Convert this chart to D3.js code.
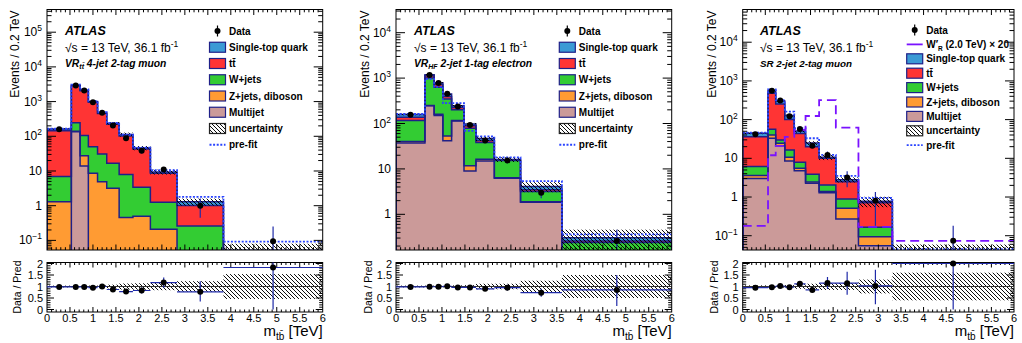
<!DOCTYPE html>
<html><head><meta charset="utf-8">
<script src="https://cdn.jsdelivr.net/npm/d3@7"></script>
<style>body{margin:0;background:#fff} svg{display:block}</style>
</head><body><svg id="c" width="1022" height="343"></svg>
<script>
// ---------------- data ----------------
const xTickVals = [0,0.5,1,1.5,2,2.5,3,3.5,4,4.5,5,5.5,6];
const xTickLabels = ["0","0.5","1","1.5","2","2.5","3","3.5","4","4.5","5","5.5","6"];
const ratioTickVals = [0,0.5,1,1.5,2];
const ratioTickLabels = ["0","0.5","1","1.5","2"];
const legendLabels = ["Data","Single-top quark","tt\u0304","W+jets","Z+jets, diboson","Multijet","uncertainty","pre-fit"];
const legendLabels3 = ["Data","W\u2032","Single-top quark","tt\u0304","W+jets","Z+jets, diboson","Multijet","uncertainty","pre-fit"];

// Panel 1: VR_tt 4-jet 2-tag muon
const yExp1 = [-1,0,1,2,3,4,5];
const edges1 = [0, 0.53, 0.72, 0.9, 1.1, 1.3, 1.57, 1.87, 2.25, 2.83, 3.84, 6.0];
const data1 = [160, 2900, 2100, 950, 480, 205, 88, 38, 11, 1.0, 0.095];
const dataLo1 = [147, 2846, 2054, 919, 458, 191, 79, 32, 8.9, 0.45, 0.0];
const dataHi1 = [173, 2954, 2146, 981, 502, 219, 97, 44, 13.1, 1.6, 0.25];
const multijet1 = [0, 135, 14, 0, 0, 0, 0, 0, 0, 0, 0];
const zjets1 = [1.3, 5, 13.5, 8.6, 4.9, 3.2, 0.46, 0.5, 0.21, 0.02, 0.002];
const wjets1 = [5.6, 107, 77.5, 41.4, 26, 13.4, 7.5, 2.9, 1.04, 0.24, 0.02];
const ttbar1 = [138, 2600, 1960, 900, 425, 207, 94, 39.6, 7.35, 0.76, 0.02];
const singletop1 = [18, 113, 75, 50, 24, 12.4, 11, 3, 0.8, 0.28, 0.01];
const unc1 = [0.04, 0.03, 0.03, 0.04, 0.05, 0.08, 0.13, 0.14, 0.16, 0.23, 0.54];
const prefit1 = [165, 3100, 2250, 1050, 500, 245, 112, 47, 10.5, 1.8, 0.092];

// Panel 2: VR_HF 2-jet 1-tag electron
const yExp2 = [0,1,2,3,4];
const edges2 = [0, 0.63, 0.83, 1.02, 1.21, 1.48, 1.74, 2.14, 2.71, 3.61, 6.0];
const data2 = [155, 1170, 780, 450, 237, 93, 42, 15.3, 3.0, 0.26];
const dataLo2 = [147, 1140, 755, 430, 225, 86, 38, 13.3, 2.25, 0.046];
const dataHi2 = [163, 1200, 805, 470, 249, 100, 46, 17.3, 3.7, 0.46];
const multijet2 = [37, 245, 150, 41.5, 114, 9, 15, 6.2, 1.84, 0];
const zjets2 = [3, 5, 10, 11.5, 2, 2.8, 1.4, 0.2, 0.05, 0];
const wjets2 = [76, 750, 470, 292, 84, 67, 21.6, 8.9, 1.3, 0.24];
const ttbar2 = [22, 120, 95, 50, 25, 10, 4, 0.3, 0.3, 0.02];
const singletop2 = [20, 62, 63, 51, 22, 8.2, 4.7, 0.5, 0.6, 0.046];
const unc2 = [0.04, 0.04, 0.04, 0.04, 0.05, 0.06, 0.12, 0.12, 0.25, 0.5];
const prefit2 = [162, 950, 640, 280, 280, 69, 52, 18, 5.4, 0.36];

// Panel 3: SR 2-jet 2-tag muon
const yExp3 = [-1,0,1,2,3,4];
const edges3 = [0, 0.56, 0.73, 0.93, 1.14, 1.39, 1.69, 2.06, 2.56, 3.31, 6.0];
const data3 = [42, 560, 310, 123, 57, 21, 12.2, 3.2, 0.8, 0.074];
const dataLo3 = [39, 545, 298, 116, 52, 18.5, 9.5, 1.8, 0.18, 0];
const dataHi3 = [45, 575, 322, 130, 62, 23.5, 15, 4.6, 1.35, 0.18];
const multijet3 = [3.0, 33, 21, 8.5, 4.8, 2.26, 1.29, 0.27, 0.055, 0];
const zjets3 = [0.6, 7, 3.5, 2.1, 0.7, 0.2, 0.1, 0.24, 0.039, 0.002];
const wjets3 = [2.5, 16, 5.2, 5.8, 2.4, 1.44, 0.65, 0.38, 0.071, 0.005];
const ttbar3 = [30, 424, 222, 85, 36, 16, 8.0, 1.6, 0.55, 0.02];
const singletop3 = [8.1, 97, 52, 25.6, 7.1, 4.8, 0.56, 0.31, 0.065, 0.01];
const unc3 = [0.05, 0.05, 0.05, 0.06, 0.1, 0.12, 0.15, 0.15, 0.3, 0.6];
const prefit3 = [46, 600, 320, 160, 60, 33, 12.2, 3.5, 0.95, 0.045];
const signal3 = [0.18, 12, 21, 36, 54, 124, 320, 62, 0.17, 0.074];

// ---------------- style / layout ----------------
const FONT = "'Liberation Sans', Arial, Helvetica, sans-serif";
const COLORS = {st:"#3b9ad5", tt:"#ff3434", wj:"#33cc33", zj:"#ff9b33", mj:"#cb9a99"};
const OUTLINE = "#1f2088";
const ERRC = "#1f2aa8";
const PREFITC = "#2a44ff";
const SIGC = "#7a12ff";
const MT = 9.5, MB = 250, RT = 262.5, RB = 312;

const panels = [
  {E:edges1, data:data1, lo:dataLo1, hi:dataHi1, mj:multijet1, zj:zjets1, wj:wjets1, tt:ttbar1, st:singletop1, unc:unc1, prefit:prefit1, yExp:yExp1,
   L:{x0:47, x1:322.7, logLo:-1.277, logHi:5.654, ax:65, yTitleX:18.5, rTitleX:20.5, legX:209.5, legY0:31, legDY:16.25, region:["VR","tt\u0304","4-jet 2-tag muon"]}},
  {E:edges2, data:data2, lo:dataLo2, hi:dataHi2, mj:multijet2, zj:zjets2, wj:wjets2, tt:ttbar2, st:singletop2, unc:unc2, prefit:prefit2, yExp:yExp2,
   L:{x0:396, x1:671.7, logLo:-0.786, logHi:4.511, ax:414, yTitleX:369, rTitleX:371.5, legX:559.3, legY0:31, legDY:16.25, region:["VR","HF","2-jet 1-tag electron"]}},
  {E:edges3, data:data3, lo:dataLo3, hi:dataHi3, mj:multijet3, zj:zjets3, wj:wjets3, tt:ttbar3, st:singletop3, unc:unc3, prefit:prefit3, yExp:yExp3, signal:signal3,
   L:{x0:742.7, x1:1014, logLo:-1.369, logHi:4.845, ax:760, yTitleX:716, rTitleX:717.5, legX:906.7, legY0:30, legDY:14.4, region:["SR 2-jet 2-tag muon",null,null]}}
];

const svg = d3.select("#c");
const defs = svg.append("defs");
const pat = defs.append("pattern").attr("id","hatch").attr("patternUnits","userSpaceOnUse")
  .attr("width",4).attr("height",4);
pat.append("path").attr("d","M-1,-1 L5,5 M-1,3 L1,5 M3,-1 L5,1")
  .attr("stroke","#000").attr("stroke-width",0.95);

function drawPanel(P, idx) {
  const L = P.L, E = P.E, n = P.data.length;
  const g = svg.append("g");
  const x = d3.scaleLinear().domain([0,6]).range([L.x0, L.x1]);
  const y = d3.scaleLog().domain([10**L.logLo, 10**L.logHi]).range([MB, MT]);
  const yr = d3.scaleLinear().domain([0,2]).range([309.5, 263.5]);
  const BOT = MB + 6;
  const Y = v => v > 0 ? Math.min(y(v), BOT) : BOT;

  defs.append("clipPath").attr("id","cm"+idx).append("rect")
    .attr("x",L.x0).attr("y",MT).attr("width",L.x1-L.x0).attr("height",MB-MT);
  defs.append("clipPath").attr("id","cr"+idx).append("rect")
    .attr("x",L.x0).attr("y",RT).attr("width",L.x1-L.x0).attr("height",RB-RT);

  // cumulative stack
  const order = ["mj","zj","wj","tt","st"];
  const cums = {}; let cum = new Array(n).fill(0);
  order.forEach(k => { cum = cum.map((c,i) => c + P[k][i]); cums[k] = cum.slice(); });
  const total = cums.st;

  const stepD = (vals, closed) => {
    let d = `M${x(E[0])},${BOT}`;
    for (let i = 0; i < n; i++) d += `V${Y(vals[i])}H${x(E[i+1])}`;
    d += `V${BOT}`;
    return closed ? d + "Z" : d;
  };
  const lineD = vals => {
    let d = `M${x(E[0])},${Y(vals[0])}`;
    for (let i = 0; i < n; i++) { if (i > 0) d += `V${Y(vals[i])}`; d += `H${x(E[i+1])}`; }
    return d;
  };

  const mg = g.append("g").attr("clip-path",`url(#cm${idx})`);
  ["st","tt","wj","zj","mj"].forEach(k => {
    mg.append("path").attr("d", stepD(cums[k], true)).attr("fill", COLORS[k]);
  });
  ["st","tt","wj","zj","mj"].forEach(k => {
    mg.append("path").attr("d", stepD(cums[k], false)).attr("fill","none")
      .attr("stroke", OUTLINE).attr("stroke-width", 1.5);
  });
  // uncertainty band
  for (let i = 0; i < n; i++) {
    const top = Y(total[i]*(1+P.unc[i])), bot = Y(total[i]*(1-P.unc[i]));
    mg.append("rect").attr("x", x(E[i])).attr("width", x(E[i+1])-x(E[i]))
      .attr("y", top).attr("height", Math.max(0.5, bot-top)).attr("fill","url(#hatch)");
  }
  // prefit
  mg.append("path").attr("d", lineD(P.prefit)).attr("fill","none")
    .attr("stroke", PREFITC).attr("stroke-width", 1.8).attr("stroke-dasharray","2,1.6");
  // signal
  if (P.signal) {
    mg.append("path").attr("d", lineD(P.signal)).attr("fill","none")
      .attr("stroke", SIGC).attr("stroke-width", 1.8).attr("stroke-dasharray","9,5");
  }
  // data
  for (let i = 0; i < n; i++) {
    const cx = x((E[i]+E[i+1])/2);
    mg.append("line").attr("x1",cx).attr("x2",cx).attr("y1",Y(P.lo[i])).attr("y2",Y(P.hi[i]))
      .attr("stroke", ERRC).attr("stroke-width",1.2);
    mg.append("circle").attr("cx",cx).attr("cy",Y(P.data[i])).attr("r",3).attr("fill","#000");
  }

  // frame
  g.append("rect").attr("x",L.x0).attr("y",MT).attr("width",L.x1-L.x0).attr("height",MB-MT)
    .attr("fill","none").attr("stroke","#000").attr("stroke-width",1);
  g.append("rect").attr("x",L.x0).attr("y",RT).attr("width",L.x1-L.x0).attr("height",RB-RT)
    .attr("fill","none").attr("stroke","#000").attr("stroke-width",1);

  const tick = (x1,y1,x2,y2) => g.append("line").attr("x1",x1).attr("y1",y1).attr("x2",x2).attr("y2",y2)
    .attr("stroke","#000").attr("stroke-width",1);

  // log y ticks
  for (let d = Math.floor(L.logLo); d <= Math.ceil(L.logHi); d++) {
    for (let k = 1; k <= 9; k++) {
      const v = k * 10**d;
      if (v < 10**L.logLo || v > 10**L.logHi) continue;
      const len = k === 1 ? 9 : 4.5, yy = y(v);
      tick(L.x0, yy, L.x0+len, yy); tick(L.x1, yy, L.x1-len, yy);
    }
  }
  // x ticks (main + ratio)
  for (let t = 0; t <= 60; t++) {
    const v = t/10, xx = x(v), major = t % 5 === 0;
    if (t === 0 || t === 60) continue;
    const lm = major ? 5.5 : 2.8, lr = major ? 5 : 2.5;
    tick(xx, MB, xx, MB-lm); tick(xx, MT, xx, MT+lm);
    tick(xx, RB, xx, RB-lr); tick(xx, RT, xx, RT+lr);
  }
  // ratio y ticks
  for (let t = 0; t <= 20; t++) {
    const yy = yr(t/10), len = t % 5 === 0 ? 7 : 3.5;
    if (yy < RT || yy > RB) continue;
    tick(L.x0, yy, L.x0+len, yy); tick(L.x1, yy, L.x1-len, yy);
  }

  const txt = (xx, yy, s, size, anchor) => g.append("text").attr("x",xx).attr("y",yy)
    .attr("font-family",FONT).attr("font-size",size).attr("text-anchor",anchor||"start").text(s);

  // y tick labels
  P.yExp.forEach(e => {
    const yy = y(10**e);
    const t = g.append("text").attr("x", L.x0-5).attr("y", yy+4).attr("font-family",FONT)
      .attr("font-size",12).attr("text-anchor","end");
    if (e === 0) t.text("1");
    else if (e === 1) t.text("10");
    else {
      t.append("tspan").text("10");
      t.append("tspan").attr("dy",-5).attr("font-size",8.5).text(e < 0 ? "\u2212" + (-e) : String(e));
    }
  });
  // ratio labels
  ratioTickVals.forEach((v,i) => txt(L.x0-4, yr(v)+4, ratioTickLabels[i], 11, "end"));
  // x labels
  xTickVals.forEach((v,i) => txt(x(v), 321.5, xTickLabels[i], 11, "middle"));

  // axis titles
  g.append("text").attr("transform",`translate(${L.yTitleX},${MT+1}) rotate(-90)`)
    .attr("font-family",FONT).attr("font-size",12).attr("text-anchor","end").text("Events / 0.2 TeV");
  g.append("text").attr("transform",`translate(${L.rTitleX},287) rotate(-90)`)
    .attr("font-family",FONT).attr("font-size",10.5).attr("text-anchor","middle").text("Data / Pred");
  const xt = g.append("text").attr("x",L.x1).attr("y",336).attr("font-family",FONT)
    .attr("font-size",15).attr("text-anchor","end");
  xt.append("tspan").text("m");
  xt.append("tspan").attr("font-size",10).attr("dy",3.5).text("tb\u0304");
  xt.append("tspan").attr("dy",-3.5).text(" [TeV]");

  // ATLAS labels
  g.append("text").attr("x",L.ax).attr("y",35).attr("font-family",FONT).attr("font-size",12.5)
    .attr("font-weight","bold").attr("font-style","italic").text("ATLAS");
  const s2 = g.append("text").attr("x",L.ax).attr("y",51.5).attr("font-family",FONT).attr("font-size",12);
  s2.append("tspan").text("\u221As = 13 TeV, 36.1 fb");
  s2.append("tspan").attr("dy",-4.5).attr("font-size",8.5).text("-1");
  const r = g.append("text").attr("x",L.ax).attr("y",66.5).attr("font-family",FONT).attr("font-size",L.region[1] ? 10.3 : 9.8)
    .attr("font-weight","bold").attr("font-style","italic");
  r.append("tspan").text(L.region[0]);
  if (L.region[1]) {
    r.append("tspan").attr("dy",2.5).attr("font-size",7).text(L.region[1]);
    r.append("tspan").attr("dy",-2.5).text("  " + L.region[2]);
  }

  // legend
  const labels = P.signal ? legendLabels3 : legendLabels;
  const kinds = P.signal ? ["data","sig","st","tt","wj","zj","mj","unc","pre"] : ["data","st","tt","wj","zj","mj","unc","pre"];
  kinds.forEach((k,i) => {
    const yy = L.legY0 + i*L.legDY, bx = L.legX, bw = 16, bh = 10;
    if (k === "data") {
      g.append("line").attr("x1",bx+bw/2).attr("x2",bx+bw/2).attr("y1",yy-5.5).attr("y2",yy+5.5)
        .attr("stroke","#000").attr("stroke-width",1.2);
      g.append("circle").attr("cx",bx+bw/2).attr("cy",yy).attr("r",3).attr("fill","#000");
    } else if (k === "sig") {
      g.append("line").attr("x1",bx).attr("x2",bx+bw).attr("y1",yy).attr("y2",yy)
        .attr("stroke",SIGC).attr("stroke-width",1.8);
    } else if (k === "pre") {
      g.append("line").attr("x1",bx).attr("x2",bx+bw).attr("y1",yy).attr("y2",yy)
        .attr("stroke",PREFITC).attr("stroke-width",1.8).attr("stroke-dasharray","2,1.6");
    } else {
      g.append("rect").attr("x",bx).attr("y",yy-bh/2).attr("width",bw).attr("height",bh)
        .attr("fill", k === "unc" ? "url(#hatch)" : COLORS[k])
        .attr("stroke", k === "unc" ? "#222" : OUTLINE).attr("stroke-width",1.2);
    }
    const t = g.append("text").attr("x",bx+bw+3.5).attr("y",yy+3.6).attr("font-family",FONT)
      .attr("font-size",10).attr("font-weight","bold");
    if (k === "sig") {
      t.append("tspan").text("W\u2032");
      t.append("tspan").attr("dy",2.5).attr("font-size",6.5).text("R");
      t.append("tspan").attr("dy",-2.5).text(" (2.0 TeV) \u00D7 20");
    } else t.text(labels[i]);
  });

  // ratio panel
  const rg = g.append("g").attr("clip-path",`url(#cr${idx})`);
  for (let i = 0; i < n; i++) {
    const top = yr(1+P.unc[i]), bot = yr(1-P.unc[i]);
    rg.append("rect").attr("x",x(E[i])).attr("width",x(E[i+1])-x(E[i]))
      .attr("y",top).attr("height",bot-top).attr("fill","url(#hatch)");
  }
  rg.append("line").attr("x1",L.x0).attr("x2",L.x1).attr("y1",yr(1)).attr("y2",yr(1))
    .attr("stroke","#333").attr("stroke-width",1.2);
  for (let i = 0; i < n; i++) {
    const cx = x((E[i]+E[i+1])/2), rv = P.data[i]/total[i];
    rg.append("line").attr("x1",x(E[i])).attr("x2",x(E[i+1])).attr("y1",yr(rv)).attr("y2",yr(rv))
      .attr("stroke",ERRC).attr("stroke-width",1.2);
    rg.append("line").attr("x1",cx).attr("x2",cx).attr("y1",yr(P.lo[i]/total[i])).attr("y2",yr(P.hi[i]/total[i]))
      .attr("stroke",ERRC).attr("stroke-width",1.2);
    g.append("circle").attr("cx",cx).attr("cy",yr(rv)).attr("r",3).attr("fill","#000");
  }
}

panels.forEach((P,i) => drawPanel(P,i));
</script></body></html>
